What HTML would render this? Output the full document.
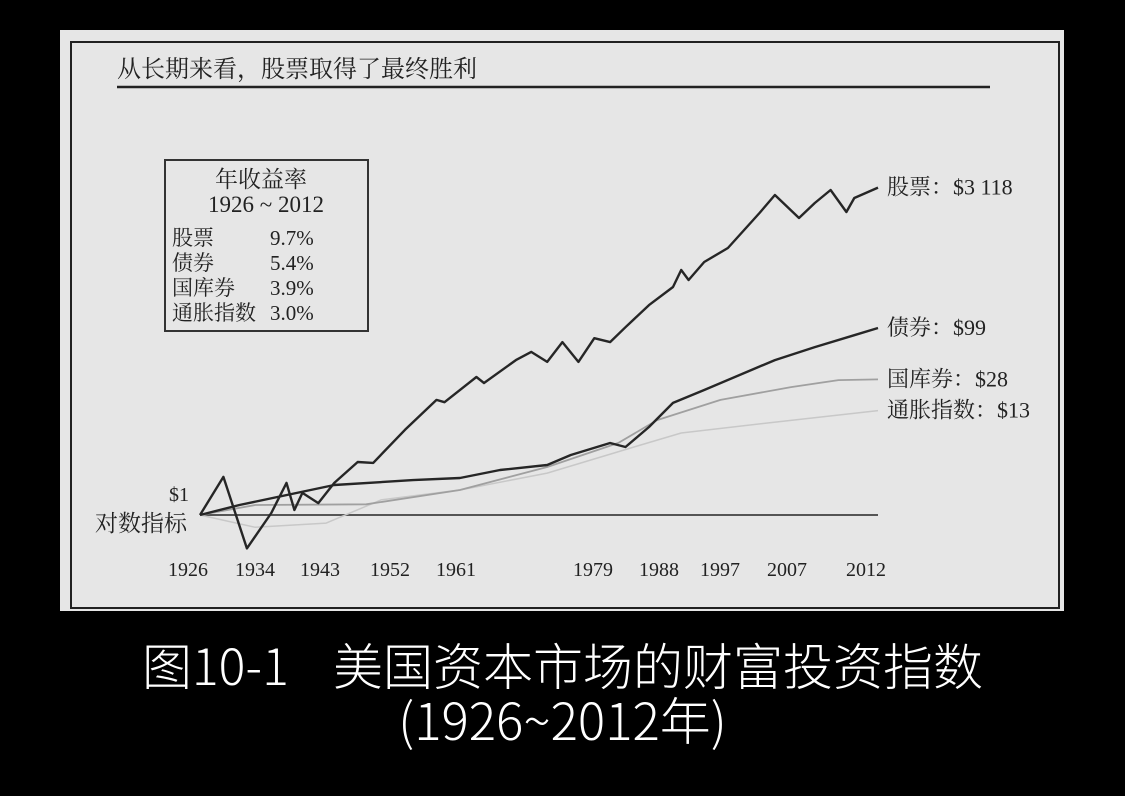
<!DOCTYPE html>
<html><head><meta charset="utf-8">
<style>
body{margin:0;background:#000;width:1125px;height:796px;overflow:hidden;position:relative;font-family:"Liberation Serif","Noto Serif CJK SC",serif;}
#panel{position:absolute;left:60px;top:30px;width:1004px;height:581px;background:#e6e6e6;}
#frame{position:absolute;left:70px;top:41px;width:990px;height:568px;border:2px solid #222;box-sizing:border-box;}
.cap{position:absolute;left:0;width:1125px;text-align:center;color:#fff;font-family:"Noto Sans CJK SC",sans-serif;font-weight:300;line-height:1.2;}
</style></head><body>
<div id="panel"></div>
<div id="frame"></div>
<svg id="chart" width="1125" height="796" style="position:absolute;left:0;top:0" font-family="Liberation Serif, Noto Serif CJK SC, serif"></svg>
<div class="cap" style="top:634px;font-size:50px">图10-1&nbsp;&nbsp;&nbsp;&nbsp;美国资本市场的财富投资指数</div>
<div class="cap" style="top:688px;font-size:51px">(1926~2012年)</div>
<script>
const stockYears=[1926,1928.8,1931.6,1934.6,1936.7,1937.8,1938.9,1941.1,1943.3,1946.3,1948.3,1952.4,1956.7,1957.8,1962.1,1963.1,1967.3,1969.3,1971.4,1973.4,1975.5,1977.6,1979.7,1981.8,1985.0,1988.3,1989.5,1990.6,1992.9,1996.4,2001.1,2003.4,2007.0,2008.0,2009.0,2010.0,2010.5,2012];
const stockVals=[1,2.55,0.44,1.05,2.2,1.13,1.72,1.34,2.2,3.68,3.6,8.1,16.9,16,29.7,25.6,45,55,43,70,43,77,70,101,174,271,412,322,501,707,1671,2600,1479,2137,2942,1713,2415,3118];
const bondYears=[1926,1930.7,1943.3,1953.5,1959.9,1965.2,1971.4,1974.5,1979.7,1981.8,1985.0,1988.3,1992.9,1999.9,2003.4,2008.0,2010.5,2012];
const bondVals=[1,1.28,2.09,2.36,2.48,3.02,3.42,4.37,5.87,5.32,8.7,15.7,21.6,35.3,45,62,83,99];
const billYears=[1926,1932.6,1947.4,1959.9,1971.4,1980.8,1986.1,1995.3,2005.8,2009.5,2012];
const billVals=[1,1.28,1.3,1.85,3.25,5.87,10.3,16.9,23.2,27.5,28];
const inflYears=[1926,1932.6,1942.2,1949.3,1959.9,1971.4,1982.9,1989.5,2002.3,2012];
const inflVals=[1,0.74,0.82,1.45,1.85,2.8,5.3,7.5,9.6,13];
const tickYears=[1926,1934,1943,1952,1961,1979,1988,1997,2007,2012];
const legendNames=["股票","债券","国库券","通胀指数"];
const legendRates=["9.7%","5.4%","3.9%","3.0%"];
const endLabels=["股票：$3 118","债券：$99","国库券：$28","通胀指数：$13"];

const svg=document.getElementById('chart');
const NS='http://www.w3.org/2000/svg';
const knotYears=[1926,1934,1943,1952,1961,1979,1988,1997,2007,2012];
const knotPx=[200,267,332,402,468,605,671,732,799,878];
function xS(y){
  for(let i=0;i<knotYears.length-1;i++){
    if(y<=knotYears[i+1]||i===knotYears.length-2){
      const f=(y-knotYears[i])/(knotYears[i+1]-knotYears[i]);
      return knotPx[i]+f*(knotPx[i+1]-knotPx[i]);
    }
  }
}
const yS=v=>515-Math.log10(v)*93.7;
function mk(tag,attrs,parent){const e=document.createElementNS(NS,tag);for(const k in attrs)e.setAttribute(k,attrs[k]);(parent||svg).appendChild(e);return e;}
function txt(s,x,y,size,anchor,fill){const t=mk('text',{x:x,y:y,'font-size':size,'text-anchor':anchor||'start',fill:fill||'#222'});t.textContent=s;return t;}

let t=txt('从长期来看，股票取得了最终胜利',117,77,24);


let l=mk('line',{x1:117,y1:87,x2:990,y2:87,stroke:'#222','stroke-width':2.5});



let b=mk('line',{x1:xS(1926),y1:yS(1),x2:xS(2012),y2:yS(1),stroke:'#555','stroke-width':2});



function series(ys,vs,color,w,name){
  const d=ys.map((y,i)=>(i?'L':'M')+xS(y).toFixed(1)+','+yS(vs[i]).toFixed(1)).join(' ');
  const p=mk('path',{d:d,fill:'none',stroke:color,'stroke-width':w,'stroke-linejoin':'round'});
  
  
}
series(inflYears,inflVals,'#c8c8c8',1.5,'inflation-line');
series(billYears,billVals,'#a0a0a0',1.8,'treasury-bill-line');
series(bondYears,bondVals,'#262626',2.4,'bond-line');
series(stockYears,stockVals,'#262626',2.4,'stock-line');

tickYears.forEach(y=>{
  const e=txt(String(y),xS(y)-12,576,20,'middle');
  
  
});
let e1=txt('$1',179,501,20,'middle');


let e2=txt('对数指标',95,531,23);



const endVals=[stockVals[stockVals.length-1],bondVals[bondVals.length-1],billVals[billVals.length-1],inflVals[inflVals.length-1]];
endLabels.forEach((s,i)=>{
  const e=txt(s,887,yS(endVals[i])+7,22);
  
  
});

const g=mk('g',{});


mk('rect',{x:165,y:160,width:203,height:171,fill:'none',stroke:'#333','stroke-width':2},g);
let h1=mk('text',{x:261,y:187,'font-size':23,'text-anchor':'middle',fill:'#222'},g);h1.textContent='年收益率';
let h2=mk('text',{x:266,y:212,'font-size':23,'text-anchor':'middle',fill:'#222','xml:space':'preserve'},g);h2.textContent='1926  ~  2012';
legendNames.forEach((n,i)=>{
  const a=mk('text',{x:172,y:245+i*25,'font-size':21,fill:'#222'},g);a.textContent=n;
  
  
  const r=mk('text',{x:270,y:245+i*25,'font-size':21,fill:'#222'},g);r.textContent=legendRates[i];
  
  
});
</script>
</body></html>
